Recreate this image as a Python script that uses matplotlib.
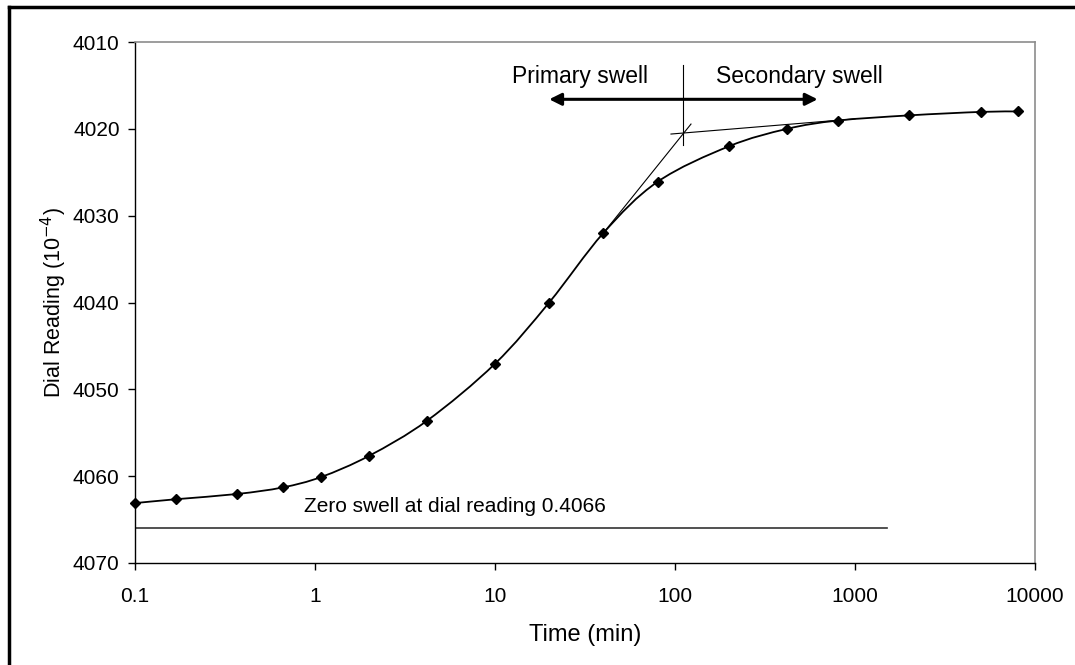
import numpy as np
import matplotlib
matplotlib.use("Agg")
import matplotlib.pyplot as plt
from matplotlib.path import Path
from matplotlib.patches import PathPatch
from matplotlib.lines import Line2D

plt.rcParams['font.family'] = ['Liberation Sans', 'DejaVu Sans']

# data
time_min = [0.1, 0.17, 0.37, 0.66, 1.08, 2.0, 4.2, 10, 20, 40, 80, 200, 420, 800, 2000, 5000, 8000]
dial = [4063.1, 4062.65, 4062.05, 4061.3, 4060.1, 4057.65, 4053.6, 4047.05, 4040.0, 4032.0,
        4026.1, 4022.0, 4020.0, 4019.05, 4018.45, 4018.05, 4018.0]

# construction lines
steep_t = [40, 122.7]
steep_y = [4032.0, 4019.45]
flat_t = [95, 1000]
flat_y = [4020.6, 4018.85]
split_t = 111
split_y = [4012.6, 4021.9]
arrow_t = [20, 620]
arrow_y = 4016.6
zero_t = [0.1, 1500]
zero_y = 4066.0

XSCALE = 180.0   # px per decade
YSCALE = 8.68    # px per unit


def smooth_path(tx, yy):
    # excel-like smoothed line: bezier through points, built in log-x space
    px = np.log10(tx) * XSCALE
    py = np.asarray(yy) * YSCALE
    n = len(px)
    verts = [(px[0], py[0])]
    codes = [Path.MOVETO]
    for i in range(n - 1):
        p0 = (px[max(i - 1, 0)], py[max(i - 1, 0)])
        p1 = (px[i], py[i])
        p2 = (px[i + 1], py[i + 1])
        p3 = (px[min(i + 2, n - 1)], py[min(i + 2, n - 1)])
        c1 = (p1[0] + (p2[0] - p0[0]) / 6, p1[1] + (p2[1] - p0[1]) / 6)
        c2 = (p2[0] - (p3[0] - p1[0]) / 6, p2[1] - (p3[1] - p1[1]) / 6)
        verts += [c1, c2, p2]
        codes += [Path.CURVE4] * 3
    verts = [(10 ** (v[0] / XSCALE), v[1] / YSCALE) for v in verts]
    return Path(verts, codes)


fig = plt.figure(figsize=(10.75, 6.65), dpi=100)
ax = fig.add_axes([135 / 1075, 1 - 563 / 665, 900 / 1075, 521 / 665])

ax.set_xscale('log')
ax.set_xlim(0.1, 10000)
ax.set_ylim(4070, 4010)

ax.add_patch(PathPatch(smooth_path(time_min, dial), facecolor='none', edgecolor='black', lw=1.3))
ax.plot(time_min, dial, linestyle='none', marker='D', markersize=5.5, color='black', clip_on=False, zorder=5)

ax.plot(steep_t, steep_y, color='black', lw=0.8)
ax.plot(flat_t, flat_y, color='black', lw=0.8)
ax.plot([split_t, split_t], split_y, color='black', lw=0.8)
ax.plot(zero_t, [zero_y, zero_y], color='#333333', lw=1.2)

ax.annotate('', xy=(arrow_t[0], arrow_y), xytext=(arrow_t[1], arrow_y),
            arrowprops=dict(arrowstyle='<|-|>', color='black', lw=2.2,
                            mutation_scale=18, shrinkA=0, shrinkB=0))

ax.text(71, 4014.0, 'Primary swell', fontsize=16.5, ha='right', va='center')
ax.text(168, 4014.0, 'Secondary swell', fontsize=16.5, ha='left', va='center')
ax.text(0.87, 4063.5, 'Zero swell at dial reading 0.4066', fontsize=15, ha='left', va='center')

ax.set_xticks([0.1, 1, 10, 100, 1000, 10000])
ax.set_xticklabels(['0.1', '1', '10', '100', '1000', '10000'])
ax.xaxis.set_minor_locator(matplotlib.ticker.NullLocator())
ax.set_yticks(np.arange(4010, 4071, 10))
ax.tick_params(axis='both', labelsize=15, direction='out', length=5, width=1)
ax.tick_params(axis='x', pad=12)
ax.tick_params(axis='y', pad=6)

ax.set_xlabel('Time (min)', fontsize=17, labelpad=13)
ax.set_ylabel('Dial Reading (10$^{-4}$)', fontsize=15.5, labelpad=3)

for s in ['top', 'right']:
    ax.spines[s].set_color('#8c8c8c')
    ax.spines[s].set_linewidth(1.2)
for s in ['left', 'bottom']:
    ax.spines[s].set_linewidth(1.0)

# outer chart frame (only left and top edges show)
fig.add_artist(Line2D([9 / 1075, 9 / 1075], [0, 1 - 7 / 665], transform=fig.transFigure, color='black', lw=2.5))
fig.add_artist(Line2D([9 / 1075, 1], [1 - 7 / 665, 1 - 7 / 665], transform=fig.transFigure, color='black', lw=2.5))

fig.savefig('out.png', dpi=100)
